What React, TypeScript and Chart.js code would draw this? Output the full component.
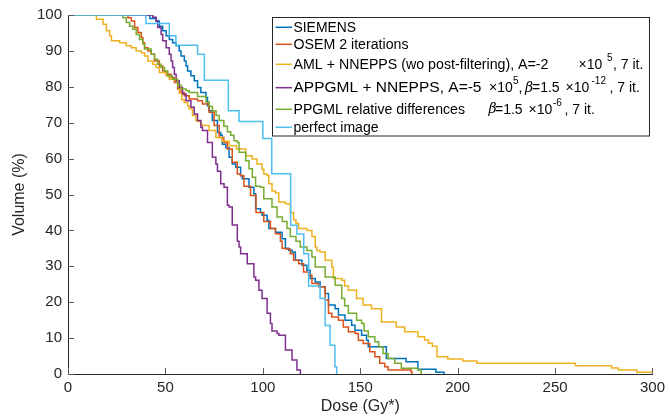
import React, { useEffect, useRef } from "react";
import { Chart, registerables } from "chart.js";

Chart.register(...registerables);

// ---- Data (dose in Gy*, volume in %) : cumulative DVH staircase points ----
const siemens: [number, number][] = [
  [0, 100], [42, 99], [45.2, 98.3], [46.9, 96.9], [48.6, 95.6], [50.4, 94.2], [52, 93.2], [53.7, 92.3],
  [55.5, 91.4], [57.1, 90], [58, 88.6], [59.7, 87.2], [60.6, 85.8], [61.4, 84.4], [63.1, 83.1], [64.8, 81.7],
  [66.5, 79.8], [68.2, 78.4], [70.8, 77], [71.6, 74.7], [72.4, 73.3], [74.1, 70.6], [76.7, 67.3], [78.4, 66.5],
  [79.2, 64], [81, 63], [82.7, 60.4], [84.3, 58.5], [86.1, 57.6], [88.6, 55.3], [89.4, 54.4], [92.9, 52],
  [95.4, 50.2], [96.3, 46], [98.8, 45], [99.6, 44.2], [102.2, 42.8], [103.1, 40.5], [106.5, 39.5], [109.9, 37.7],
  [111.6, 35], [113.3, 34.5], [115, 34], [116.7, 31.7], [120.1, 30.3], [122.6, 28.9], [124.3, 26.6], [126.9, 25.6],
  [129.4, 24.3], [132, 22.4], [133.7, 19.2], [137.1, 18.2], [138.8, 16.4], [142.2, 15], [145.6, 13.6], [147.3, 12.2],
  [150.7, 10.8], [153.2, 9.4], [154.1, 7.6], [163.4, 4.3], [173.5, 3.4], [179.6, 1.3], [188.8, 0.5], [193, 0],
];

const osem2: [number, number][] = [
  [0, 100], [28.2, 100], [30.8, 99.2], [32.5, 98.3], [34.2, 96.5], [35.9, 95.1], [37.6, 93.7], [38.4, 92.3],
  [39.3, 90.9], [41, 90], [42.7, 89.1], [44.4, 87.2], [46.9, 85.8], [48.6, 84.4], [50.4, 83.5], [52.9, 82.6],
  [54.6, 81.2], [56.3, 79.4], [58, 78.4], [59.7, 77.5], [62.2, 76.6], [66.5, 76.1], [69, 75.2], [72.4, 72.9],
  [75, 69.2], [77.6, 65.9], [80, 64.5], [81.8, 62.7], [84.3, 59], [86.9, 55.7], [88.5, 55.2], [90.3, 52.3],
  [93.7, 49.7], [96.5, 45], [100.5, 42.5], [103.9, 40.5], [106.5, 39.1], [109, 37], [109.9, 35], [111.6, 34.8],
  [114.1, 33.5], [115.8, 31.7], [118.4, 30.7], [120.9, 28.4], [123.5, 27.5], [125.2, 25.2], [128.6, 24.3], [132, 20.6],
  [133.7, 16.9], [135.4, 15.9], [138.8, 15], [141.3, 13.1], [143.9, 11.8], [147.3, 11.3], [149, 9.4], [151.5, 8.5],
  [154.9, 6.2], [157.5, 4.8], [160, 3], [162.6, 2], [164.3, 1.1], [176.2, 0.6], [176.5, 0],
];

const amlNnepps: [number, number][] = [
  [0, 100], [12.1, 100], [14.6, 98.8], [18, 97.4], [19.7, 95.6], [21.4, 94.2], [22.3, 92.8], [26.5, 92.3],
  [29.9, 91.4], [32.5, 90.9], [35, 90], [37.6, 89.5], [39.3, 88.6], [41, 87.2], [43.5, 86.3], [45.2, 85.4],
  [46.9, 84], [50.3, 83.1], [52, 82.1], [54.6, 81.7], [56.3, 80.3], [57.1, 78.2], [58.4, 76.4], [59.7, 75.6],
  [61.4, 74.7], [62.2, 73.8], [63.9, 72], [65.7, 70.6], [66.5, 70.3], [68.2, 69.6], [69, 69.2], [72.4, 67.8],
  [75.9, 65.9], [79.2, 64.8], [82.7, 63.6], [86.5, 62.7], [91.2, 60.8], [94.5, 59.9], [97, 58.5], [99.6, 57],
  [100.5, 55.7], [102.2, 55.3], [103.1, 53], [104.7, 51], [106.5, 50.4], [108.2, 47.9], [111.6, 47.4], [114.1, 45],
  [115.8, 43], [117, 41.9], [118.4, 40.5], [122.6, 40], [125.2, 38.3], [126.9, 35.4], [127.7, 34.4], [129.4, 34],
  [132, 31.7], [135.4, 29.8], [136.2, 26.6], [140.5, 26.1], [142, 24.5], [143.9, 23.3], [148.1, 21], [151.5, 19.2],
  [155.8, 18.2], [160.9, 14.5], [168.5, 13.1], [172.8, 11.8], [179.6, 10.4], [183, 9.5], [185, 8.6], [187, 7.7],
  [189.4, 4.8], [194.9, 4.2], [202.6, 3.6], [209.9, 3], [260.4, 2.3], [279, 1.7], [282.5, 1.1], [292, 0.5], [300, 0.5],
];

const appgmlNnepps: [number, number][] = [
  [0, 100], [41, 100], [43.5, 99.4], [45.2, 98.3], [46.1, 96.5], [47.8, 94.6], [48.6, 92.8], [50.4, 90.9],
  [52, 89.1], [52.9, 87.2], [53.7, 85.4], [54.6, 83.5], [55.5, 81.7], [57.1, 79.8], [58.8, 78], [60.6, 76.1],
  [63.1, 74.3], [64.8, 72.4], [66.5, 70.6], [68.2, 68.7], [69, 67.8], [71.6, 64.5], [74.1, 60.4], [75.9, 58.5],
  [76.7, 56.5], [78.4, 53], [80.1, 52], [81.8, 47], [82.7, 46.5], [84.3, 41.5], [86.9, 37], [87.8, 35.4],
  [88.6, 33.5], [92, 30.7], [95.4, 27], [96.3, 26.1], [98, 23.3], [99.6, 21], [102.2, 16.9], [103.9, 14.1],
  [104.7, 12], [107.3, 11.3], [108.2, 10.8], [111.6, 6.7], [115, 3.9], [117.5, 1.1], [119.3, 0],
];

const ppgmlRd: [number, number][] = [
  [0, 100], [27.4, 100], [28.2, 99.2], [29.9, 97.9], [31.6, 96.9], [33.3, 96], [35, 94.6], [36.7, 93.2],
  [38.4, 91.9], [39.3, 90.5], [42.7, 89.1], [44.4, 87.7], [46.1, 86.3], [47.8, 85.4], [49.5, 84.4], [51.2, 83],
  [53.7, 82.1], [56.3, 80.5], [58, 79.4], [60.6, 78.9], [62.2, 78.4], [66.5, 77.3], [70.8, 75.8], [72.5, 74.5],
  [74.1, 73.3], [76, 72], [77.6, 70.6], [80, 69], [81.8, 67.5], [83.5, 66.5], [85.2, 65], [86.9, 64.5],
  [87.8, 61.8], [91.2, 59.4], [92.9, 57.2], [94.6, 54.8], [96.3, 52.3], [98.8, 52], [100.5, 48.8], [104.7, 46.5],
  [107.3, 43.7], [110, 42.5], [112.4, 40.5], [114.1, 38.3], [117, 37], [119.2, 35.4], [122.6, 34.4], [125.2, 32.6],
  [126.9, 29.8], [132, 27], [137.1, 24.7], [140.5, 21], [142, 19], [143.9, 16.9], [148.1, 15], [150.7, 14.1],
  [152, 12], [154.1, 10.4], [157.5, 9], [159.5, 7.5], [161.7, 5.7], [164.3, 4.3], [167.7, 3], [171.1, 1.6],
  [179.6, 1.1], [181.3, 0],
];

const perfectImage: [number, number][] = [
  [0, 100], [40, 97.6], [52, 94.2], [55.4, 91.6], [66.5, 89.1], [70, 81.8], [82.3, 73.3], [87.8, 70.3],
  [100, 65.6], [104.6, 55.8], [114.3, 41.4], [117.5, 39], [121, 33.5], [123.5, 24.5], [129.4, 21], [132, 13.5],
  [134.5, 8], [137, 2], [137.9, 0],
];

const xTicks = [0, 50, 100, 150, 200, 250, 300];
const yTicks = [0, 10, 20, 30, 40, 50, 60, 70, 80, 90, 100];

const seriesNames = [
  "SIEMENS",
  "OSEM 2 iterations",
  "AML + NNEPPS (wo post-filtering), A=-2",
  "APPGML + NNEPPS, A=-5",
  "PPGML relative differences",
  "perfect image",
];
const seriesData = [siemens, osem2, amlNnepps, appgmlNnepps, ppgmlRd, perfectImage];
const seriesColors = ["#0072BD", "#D95319", "#EDB120", "#7E2F8E", "#77AC30", "#4DBEEE"];

const FONT = "'Liberation Sans', Arial, Helvetica, sans-serif";
const AXIS_COLOR = "#262626";

// legend rows: pieces of text, offsets (px) from text start; w = width the piece spans
type Piece = { t: string; dx: number; w?: number; sup?: boolean; it?: boolean };
const legendPieces: Piece[][] = [
  [{ t: seriesNames[0], dx: 0, w: 62.5 }],
  [{ t: seriesNames[1], dx: 0, w: 115 }],
  [
    { t: seriesNames[2], dx: 0, w: 255 },
    { t: "\u00d710", dx: 285 },
    { t: "5", dx: 313.5, sup: true },
    { t: ", 7 it.", dx: 319.5 },
  ],
  [
    { t: seriesNames[3], dx: 0, w: 188 },
    { t: "\u00d710", dx: 195.5 },
    { t: "5", dx: 219.5, sup: true },
    { t: ",", dx: 225 },
    { t: "\u03b2", dx: 231.5, it: true },
    { t: "=1.5", dx: 238.5 },
    { t: "\u00d710", dx: 272 },
    { t: "-12", dx: 298, sup: true },
    { t: ", 7 it.", dx: 316 },
  ],
  [
    { t: seriesNames[4], dx: 0, w: 171.5 },
    { t: "\u03b2", dx: 195, it: true },
    { t: "=1.5", dx: 201.5 },
    { t: "\u00d710", dx: 235 },
    { t: "-6", dx: 259.5, sup: true },
    { t: ", 7 it.", dx: 271 },
  ],
  [{ t: seriesNames[5], dx: 0, w: 85 }],
];

const inwardTicks = {
  id: "inwardTicks",
  afterDatasetsDraw(chart: any) {
    const { ctx, chartArea, scales } = chart;
    ctx.save();
    ctx.strokeStyle = "#5a5a5a";
    ctx.lineWidth = 1;
    const xs = scales.x;
    const ys = scales.y;
    xTicks.forEach((v) => {
      const px = Math.round(xs.getPixelForValue(v)) + 0.5;
      ctx.beginPath();
      ctx.moveTo(px, chartArea.bottom);
      ctx.lineTo(px, chartArea.bottom - 6);
      ctx.stroke();
    });
    yTicks.forEach((v) => {
      const py = Math.round(ys.getPixelForValue(v)) + 0.5;
      ctx.beginPath();
      ctx.moveTo(chartArea.left, py);
      ctx.lineTo(chartArea.left + 6, py);
      ctx.stroke();
    });
    ctx.restore();
  },
};

const customLegend = {
  id: "customLegend",
  afterDraw(chart: any) {
    const { ctx, chartArea } = chart;
    const bx = 272.5;
    const by = 17.5;
    const bw = chartArea.right - 3 - bx;
    const bh = 118.5;
    const rows = [27.3, 44.3, 64.3, 87.7, 109.3, 127.3];
    ctx.save();
    ctx.fillStyle = "#ffffff";
    ctx.fillRect(bx, by, bw, bh);
    ctx.strokeStyle = AXIS_COLOR;
    ctx.lineWidth = 1;
    ctx.strokeRect(bx, by, bw, bh);
    const tx = bx + 21;
    rows.forEach((ry, i) => {
      ctx.strokeStyle = seriesColors[i];
      ctx.lineWidth = 1.5;
      ctx.beginPath();
      ctx.moveTo(bx + 3, ry);
      ctx.lineTo(bx + 19.5, ry);
      ctx.stroke();
      ctx.fillStyle = "#000000";
      ctx.textBaseline = "middle";
      ctx.textAlign = "left";
      legendPieces[i].forEach((p) => {
        if (p.sup) {
          ctx.font = `10px ${FONT}`;
          ctx.fillText(p.t, tx + p.dx, ry - 6);
        } else {
          ctx.font = `${p.it ? "italic " : ""}14px ${p.it ? "'DejaVu Serif', 'Liberation Serif', serif" : FONT}`;
          if (p.w) {
            const mw = ctx.measureText(p.t).width;
            const s = mw > 0 ? p.w / mw : 1;
            ctx.save();
            ctx.translate(tx + p.dx, ry + 0.5);
            ctx.scale(s, 1);
            ctx.fillText(p.t, 0, 0);
            ctx.restore();
          } else {
            ctx.fillText(p.t, tx + p.dx, ry + 0.5);
          }
        }
      });
    });
    ctx.restore();
  },
};

export default function App() {
  const canvasRef = useRef<HTMLCanvasElement | null>(null);

  useEffect(() => {
    const canvas = canvasRef.current;
    if (!canvas) return;
    const chart = new Chart(canvas, {
      type: "line",
      data: {
        datasets: seriesData.map((pts, i) => ({
          label: seriesNames[i],
          data: pts.map(([x, y]) => ({ x, y })),
          borderColor: seriesColors[i],
          backgroundColor: seriesColors[i],
          borderWidth: 1.5,
          pointRadius: 0,
          stepped: true,
          fill: false,
          order: seriesData.length - i,
        })),
      },
      options: {
        responsive: false,
        animation: false,
        events: [],
        layout: { padding: { left: 0, top: 14, right: 10, bottom: 0 } },
        plugins: {
          legend: { display: false },
          tooltip: { enabled: false },
          title: { display: false },
        },
        scales: {
          x: {
            type: "linear",
            min: 0,
            max: 300,
            afterBuildTicks: (scale: any) => {
              scale.ticks = xTicks.map((v) => ({ value: v }));
            },
            afterFit: (scale: any) => {
              scale.height = 46;
            },
            grid: { display: false, drawTicks: false },
            border: { display: true, color: AXIS_COLOR, width: 1 },
            ticks: {
              padding: 5,
              color: AXIS_COLOR,
              font: { family: FONT, size: 15 },
              maxRotation: 0,
            },
            title: {
              display: true,
              text: "Dose (Gy*)",
              color: AXIS_COLOR,
              font: { family: FONT, size: 16 },
              padding: { top: 0, bottom: 4 },
            },
          },
          y: {
            type: "linear",
            min: 0,
            max: 100,
            afterBuildTicks: (scale: any) => {
              scale.ticks = yTicks.map((v) => ({ value: v }));
            },
            afterFit: (scale: any) => {
              scale.width = 68;
            },
            grid: { display: false, drawTicks: false },
            border: { display: true, color: AXIS_COLOR, width: 1 },
            ticks: {
              padding: 6,
              color: AXIS_COLOR,
              font: { family: FONT, size: 15 },
            },
            title: {
              display: true,
              text: "Volume (%)",
              color: AXIS_COLOR,
              font: { family: FONT, size: 16 },
              padding: { top: 10, bottom: 0 },
            },
          },
        },
      },
      plugins: [inwardTicks, customLegend],
    });
    return () => chart.destroy();
  }, []);

  return (
    <div style={{ position: "absolute", left: 0, top: 0, width: 670, height: 420, background: "#fff" }}>
      <canvas ref={canvasRef} width={670} height={420} />
    </div>
  );
}
